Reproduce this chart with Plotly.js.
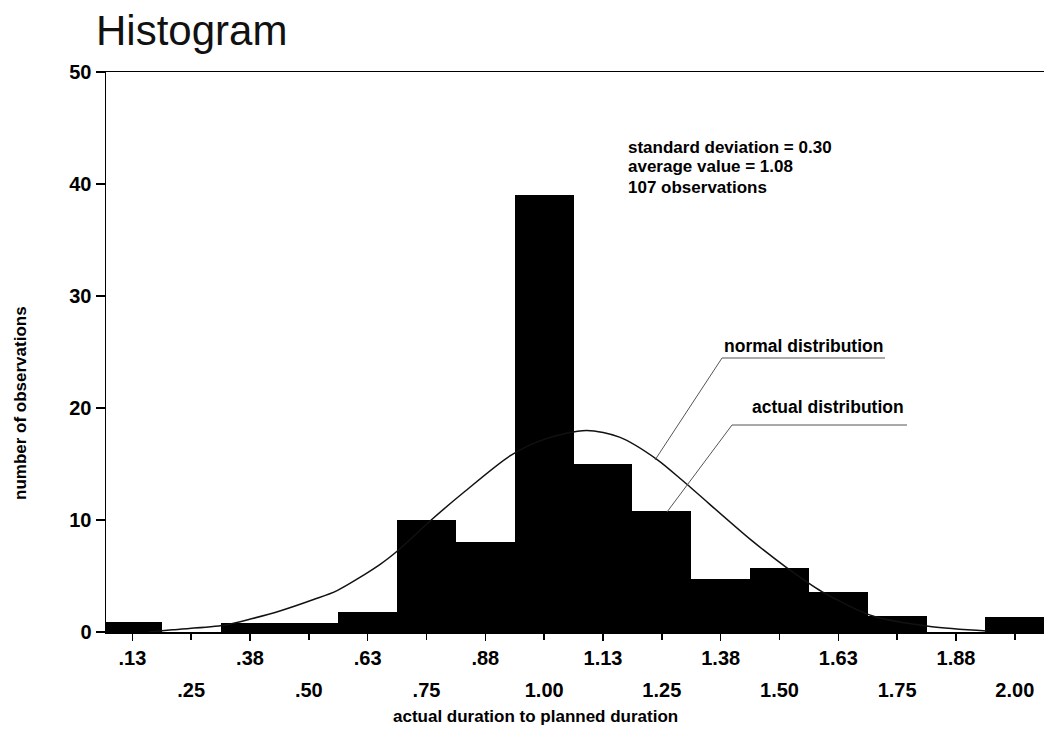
<!DOCTYPE html>
<html>
<head>
<meta charset="utf-8">
<script src="https://cdn.plot.ly/plotly-3.0.1.min.js"></script>
<style>html,body{margin:0;padding:0;background:#fff;}#chart{width:1044px;height:749px;}</style>
</head>
<body>
<div id="chart"></div>
<script>
// ---- data ----
var binCenters = [0.125, 0.25, 0.375, 0.5, 0.625, 0.75, 0.875, 1.0, 1.125, 1.25, 1.375, 1.5, 1.625, 1.75, 1.875, 2.0];
var counts     = [0.9, 0, 0.8, 0.8, 1.8, 10, 8, 39, 15, 10.8, 4.7, 5.7, 3.6, 1.4, 0, 1.3];

var upperTickVals = [0.125, 0.375, 0.625, 0.875, 1.125, 1.375, 1.625, 1.875];
var upperTickText = [".13", ".38", ".63", ".88", "1.13", "1.38", "1.63", "1.88"];
var lowerTickVals = [0.25, 0.5, 0.75, 1.0, 1.25, 1.5, 1.75, 2.0];
var lowerTickText = [".25", ".50", ".75", "1.00", "1.25", "1.50", "1.75", "2.00"];

var yTickVals = [0, 10, 20, 30, 40, 50];

// normal distribution curve
var curveX = [0.16, 0.21, 0.32, 0.38, 0.44, 0.51, 0.56, 0.65, 0.69, 0.76, 0.83, 0.93, 1.00, 1.09, 1.16, 1.24, 1.30, 1.44, 1.52, 1.59, 1.70, 1.82, 1.94];
var curveY = [0.0, 0.2, 0.6, 1.2, 1.9, 2.9, 3.7, 6.0, 7.3, 10.0, 12.5, 15.8, 17.2, 18.0, 17.4, 15.4, 13.3, 8.2, 5.6, 3.6, 1.4, 0.5, 0.1];

var statsLines = ["standard deviation = 0.30", "average value = 1.08", "107 observations"];

// ---- layout helpers (pixel -> paper) ----
var L = 106, R = 1044, T = 72, B = 632;
function px(x){ return (x - L) / (R - L); }
function py(y){ return (B - y) / (B - T); }

var FONT = "Liberation Sans, Arial, Helvetica, sans-serif";

var traces = [
  {
    type: "bar",
    x: binCenters,
    y: counts,
    width: 0.125,
    marker: {color: "#000", line: {width: 0}},
    hoverinfo: "x+y",
    showlegend: false
  },
  {
    type: "scatter",
    mode: "lines",
    x: curveX,
    y: curveY,
    xaxis: "x2",
    yaxis: "y",
    line: {color: "#111", width: 1.5, shape: "spline", smoothing: 0.8},
    hoverinfo: "skip",
    showlegend: false
  }
];

var annotations = [];
statsLines.forEach(function(t, i){
  annotations.push({
    xref: "paper", yref: "paper", x: px(626), y: py(147 + 20 * i), xanchor: "left", yanchor: "middle",
    align: "left", showarrow: false, text: t,
    font: {family: FONT, size: 17, weight: "bold", color: "#000"}
  });
});
annotations.push(
  {
    xref: "paper", yref: "paper", x: px(722), y: py(346), xanchor: "left", yanchor: "middle",
    showarrow: false, text: "normal distribution",
    font: {family: FONT, size: 17.5, weight: "bold", color: "#000"}
  },
  {
    xref: "paper", yref: "paper", x: px(750), y: py(407), xanchor: "left", yanchor: "middle",
    showarrow: false, text: "actual distribution",
    font: {family: FONT, size: 17.5, weight: "bold", color: "#000"}
  },
  {
    xref: "paper", yref: "paper", x: px(535), y: py(716), xanchor: "center", yanchor: "middle",
    showarrow: false, text: "actual duration to planned duration",
    font: {family: FONT, size: 17, weight: "bold", color: "#000"}
  },
  {
    xref: "paper", yref: "paper", x: px(20), y: py(403), xanchor: "center", yanchor: "middle",
    showarrow: false, textangle: -90, text: "number of observations",
    font: {family: FONT, size: 17, weight: "bold", color: "#000"}
  }
);

var layout = {
  width: 1044,
  height: 749,
  margin: {l: L, r: 0, t: T, b: 749 - B, pad: 0},
  paper_bgcolor: "#fff",
  plot_bgcolor: "#fff",
  font: {family: FONT, color: "#000"},
  showlegend: false,
  bargap: 0,
  title: {
    text: "Histogram",
    font: {family: FONT, size: 42, color: "#111"},
    xref: "container", x: 96 / 1044, xanchor: "left",
    yref: "container", y: 1 - 30 / 749, yanchor: "middle"
  },
  xaxis: {
    range: [0.069, 2.062],
    showline: true, mirror: true, linecolor: "#000", linewidth: 1.5,
    showgrid: false, zeroline: false,
    tickmode: "array", tickvals: upperTickVals, ticktext: upperTickText,
    ticks: "outside", ticklen: 7, tickwidth: 1.5, tickcolor: "#000",
    ticklabelstandoff: 0,
    tickfont: {family: FONT, size: 20, weight: "bold", color: "#000"},
    fixedrange: true
  },
  xaxis2: {
    overlaying: "x", matches: "x", anchor: "y", side: "bottom",
    showline: false, showgrid: false, zeroline: false,
    tickmode: "array", tickvals: lowerTickVals, ticktext: lowerTickText,
    ticks: "outside", ticklen: 7, tickwidth: 1.5, tickcolor: "#000",
    ticklabelstandoff: 33,
    tickfont: {family: FONT, size: 20, weight: "bold", color: "#000"},
    fixedrange: true
  },
  yaxis: {
    range: [0, 50],
    showline: true, linecolor: "#000", linewidth: 1.5,
    showgrid: false, zeroline: false,
    tickmode: "array", tickvals: yTickVals,
    ticks: "outside", ticklen: 9, tickwidth: 1.5, tickcolor: "#000",
    tickfont: {family: FONT, size: 20, weight: "bold", color: "#000"},
    automargin: false,
    fixedrange: true
  },
  annotations: annotations,
  shapes: [
    {type: "line", xref: "paper", yref: "paper", x0: px(722), y0: py(358), x1: px(885), y1: py(358), line: {color: "#555", width: 1}},
    {type: "line", xref: "paper", yref: "paper", x0: px(722), y0: py(358), x1: px(655), y1: py(460), line: {color: "#555", width: 1}},
    {type: "line", xref: "paper", yref: "paper", x0: px(732), y0: py(425), x1: px(907), y1: py(425), line: {color: "#555", width: 1}},
    {type: "line", xref: "paper", yref: "paper", x0: px(732), y0: py(425), x1: px(667), y1: py(512), line: {color: "#555", width: 1}}
  ]
};

Plotly.newPlot("chart", traces, layout, {displayModeBar: false, staticPlot: true});
</script>
</body>
</html>
